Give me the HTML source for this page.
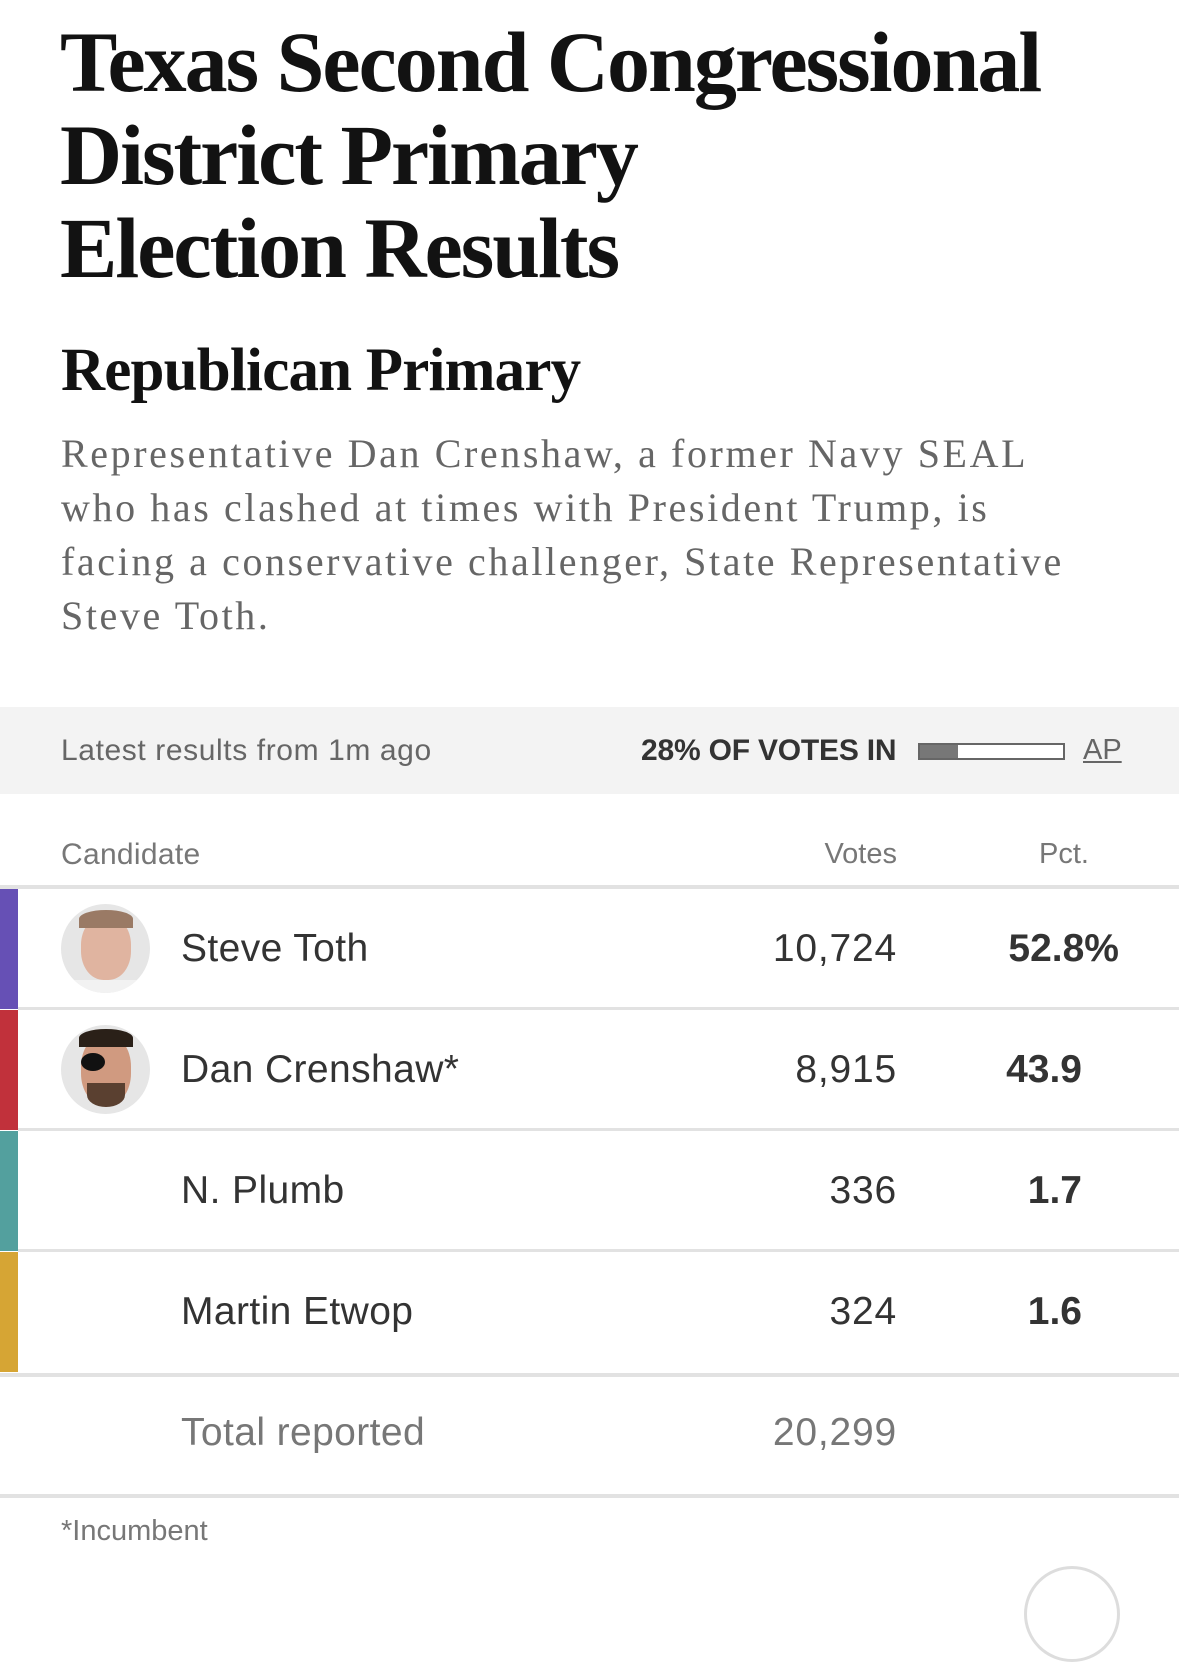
<!DOCTYPE html>
<html><head><meta charset="utf-8"><style>
body{margin:0;width:1179px;height:1589px;background:#fff;position:relative;overflow:hidden;font-family:"Liberation Sans",sans-serif}
.a{position:absolute;white-space:nowrap}
.t{font-family:"Liberation Serif",serif;font-weight:bold;color:#121212;font-size:86px;letter-spacing:-2px;left:60px;line-height:93px}
.p{font-family:"Liberation Serif",serif;color:#666;font-size:40px;letter-spacing:2.6px;left:61px;line-height:54px}
.row{position:absolute;left:0;width:1179px;height:120px}
.bar{position:absolute;left:0;top:0;width:18px;height:120px}
.sep{position:absolute;left:18px;right:0;height:3px;background:#e2e2e2}
.nm{position:absolute;left:181px;font-size:39px;letter-spacing:0.4px;color:#333;line-height:120px;top:0}
.v{position:absolute;right:282px;font-size:39px;letter-spacing:0.8px;color:#333;line-height:120px;top:0}
.pc{position:absolute;right:95px;font-size:39px;font-weight:bold;color:#333;line-height:120px;top:0}
.ph{position:absolute;left:61px;top:15px;width:89px;height:89px;border-radius:50%;background:#e6e6e6;overflow:hidden}
</style></head><body>
<div class="a t" style="top:16px">Texas Second Congressional</div>
<div class="a t" style="top:109px">District Primary</div>
<div class="a t" style="top:202px">Election Results</div>
<div class="a" style="left:61px;top:336px;font-family:'Liberation Serif',serif;font-weight:bold;font-size:61px;color:#121212;letter-spacing:-0.8px">Republican Primary</div>
<div class="a p" style="top:427px">Representative Dan Crenshaw, a former Navy SEAL</div>
<div class="a p" style="top:481px">who has clashed at times with President Trump, is</div>
<div class="a p" style="top:535px">facing a conservative challenger, State Representative</div>
<div class="a p" style="top:589px">Steve Toth.</div>
<div class="a" style="left:0;top:707px;width:1179px;height:87px;background:#f3f3f3"></div>
<div class="a" style="left:61px;top:734px;font-size:30px;letter-spacing:0.6px;color:#666">Latest results from 1m ago</div>
<div class="a" style="left:641px;top:734px;font-size:30px;font-weight:bold;color:#333;letter-spacing:-0.2px">28% OF VOTES IN</div>
<div class="a" style="left:918px;top:743px;width:147px;height:17px;border:2px solid #666;background:#fff;box-sizing:border-box"><div style="width:38px;height:100%;background:#777"></div></div>
<div class="a" style="left:1083px;top:734px;font-size:29px;color:#666;text-decoration:underline">AP</div>
<div class="a" style="left:61px;top:838px;font-size:30px;letter-spacing:0.3px;color:#777">Candidate</div>
<div class="a" style="right:282px;top:838px;font-size:29px;color:#777">Votes</div>
<div class="a" style="right:90px;top:838px;font-size:29px;color:#777">Pct.</div>
<div class="a" style="left:0;top:885px;width:1179px;height:4px;background:#e2e2e2"></div>

<div class="row" style="top:889px"><div class="bar" style="background:#6650b5"></div>
<div class="ph"><div style="position:absolute;left:20px;top:12px;width:50px;height:64px;border-radius:45%;background:#e0b4a0"></div><div style="position:absolute;left:18px;top:6px;width:54px;height:18px;border-radius:50% 50% 0 0;background:#9a7a65"></div><div style="position:absolute;left:12px;top:76px;width:66px;height:20px;background:#f2f2f2"></div></div>
<div class="nm">Steve Toth</div><div class="v">10,724</div><div class="pc" style="right:60px">52.8%</div>
<div class="sep" style="top:118px"></div></div>

<div class="row" style="top:1010px"><div class="bar" style="background:#c1313b"></div>
<div class="ph"><div style="position:absolute;left:20px;top:10px;width:50px;height:70px;border-radius:45%;background:#d09a80"></div><div style="position:absolute;left:18px;top:4px;width:54px;height:18px;border-radius:50% 50% 0 0;background:#2a2018"></div><div style="position:absolute;left:20px;top:28px;width:24px;height:18px;border-radius:50%;background:#111"></div><div style="position:absolute;left:26px;top:58px;width:38px;height:24px;border-radius:0 0 50% 50%;background:#5a4030"></div></div>
<div class="nm">Dan Crenshaw*</div><div class="v">8,915</div><div class="pc" style="right:97px">43.9</div>
<div class="sep" style="top:118px"></div></div>

<div class="row" style="top:1131px"><div class="bar" style="background:#53a09e"></div>
<div class="nm">N. Plumb</div><div class="v">336</div><div class="pc" style="right:97px">1.7</div>
<div class="sep" style="top:118px"></div></div>

<div class="row" style="top:1252px"><div class="bar" style="background:#d6a534"></div>
<div class="nm">Martin Etwop</div><div class="v">324</div><div class="pc" style="right:97px">1.6</div>
</div>
<div class="a" style="left:0;top:1373px;width:1179px;height:4px;background:#e2e2e2"></div>
<div class="a" style="left:181px;top:1411px;font-size:39px;letter-spacing:0.4px;color:#777">Total reported</div>
<div class="a" style="right:282px;top:1411px;font-size:39px;letter-spacing:0.8px;color:#777">20,299</div>
<div class="a" style="left:0;top:1494px;width:1179px;height:4px;background:#e2e2e2"></div>
<div class="a" style="left:61px;top:1515px;font-size:29px;color:#777">*Incumbent</div>
<div class="a" style="left:1024px;top:1566px;width:90px;height:90px;border-radius:50%;border:3px solid #ddd"></div>
</body></html>
